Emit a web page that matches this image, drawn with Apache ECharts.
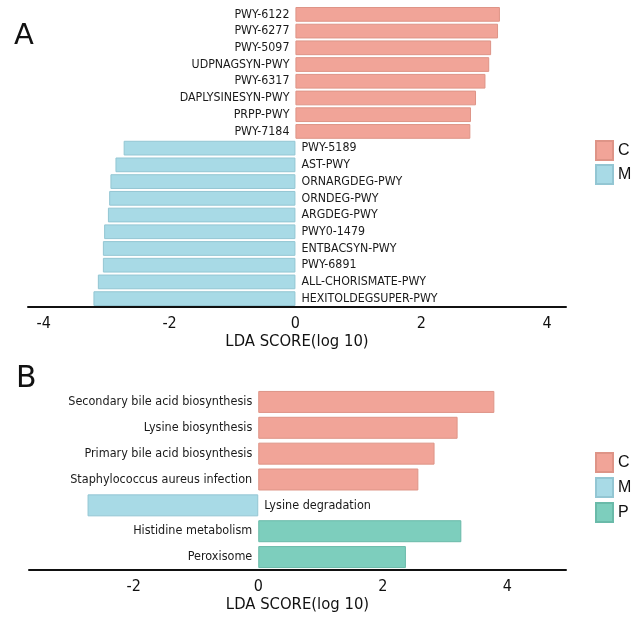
<!DOCTYPE html>
<html>
<head>
<meta charset="utf-8">
<script src="https://cdn.jsdelivr.net/npm/echarts@6/dist/echarts.min.js"></script>
<style>
  html, body { margin: 0; padding: 0; background: #fff; }
  #main { width: 640px; height: 618px; }
</style>
</head>
<body>
<div id="main"></div>
<script>
// panel A - pathways
var topCats = ['PWY-6122', 'PWY-6277', 'PWY-5097', 'UDPNAGSYN-PWY', 'PWY-6317', 'DAPLYSINESYN-PWY', 'PRPP-PWY', 'PWY-7184',
  'PWY-5189', 'AST-PWY', 'ORNARGDEG-PWY', 'ORNDEG-PWY', 'ARGDEG-PWY', 'PWY0-1479', 'ENTBACSYN-PWY', 'PWY-6891',
  'ALL-CHORISMATE-PWY', 'HEXITOLDEGSUPER-PWY'];
var topC = [3.25, 3.22, 3.11, 3.08, 3.02, 2.87, 2.79, 2.78, null, null, null, null, null, null, null, null, null, null];
var topM = [null, null, null, null, null, null, null, null, -2.73, -2.86, -2.94, -2.96, -2.98, -3.04, -3.06, -3.06, -3.14, -3.21];

// panel B - KEGG
var botCats = ['Secondary bile acid biosynthesis', 'Lysine biosynthesis', 'Primary bile acid biosynthesis',
  'Staphylococcus aureus infection', 'Lysine degradation', 'Histidine metabolism', 'Peroxisome'];
var botC = [3.79, 3.20, 2.83, 2.57, null, null, null];
var botM = [null, null, null, null, -2.74, null, null];
var botP = [null, null, null, null, null, 3.26, 2.37];

var tickVals = [-4, -2, 0, 2, 4];

var cols = { C: '#F1A498', M: '#A8DAE6', P: '#7DCEBD' };
var edge = { C: '#DE9487', M: '#93C6D3', P: '#6ABAA9' };
var FONT = '"DejaVu Sans Condensed", "Liberation Sans Narrow", "DejaVu Sans", sans-serif';

function xAx(idx, mn, mx, margin, gap) {
  return {
    gridIndex: idx, type: 'value', min: mn, max: mx,
    splitLine: { show: false }, axisTick: { show: false },
    axisLine: { show: true, onZero: false, lineStyle: { color: '#111', width: 2 } },
    axisLabel: { customValues: tickVals, margin: margin, color: '#111', fontSize: 16, fontFamily: FONT },
    name: 'LDA SCORE(log 10)', nameLocation: 'middle', nameGap: gap,
    nameTextStyle: { color: '#111', fontSize: 16.5, fontFamily: FONT }
  };
}
function yAx(idx, cats) {
  return {
    gridIndex: idx, type: 'category', data: cats, inverse: true,
    axisLine: { show: false }, axisTick: { show: false }, axisLabel: { show: false }, splitLine: { show: false }
  };
}
function bar(name, idx, data, pos, fs, gap) {
  return {
    name: name, type: 'bar', xAxisIndex: idx, yAxisIndex: idx, stack: 'p' + idx,
    data: data, barCategoryGap: gap,
    itemStyle: { color: cols[name], borderColor: edge[name], borderWidth: 1 },
    label: {
      show: true, position: pos, distance: 6, formatter: '{b}',
      color: '#1a1a1a', fontSize: fs, fontFamily: FONT
    }
  };
}

var chart = echarts.init(document.getElementById('main'));
chart.setOption({
  animation: false,
  title: [
    { text: 'A', left: 9, top: 17, textStyle: { fontSize: 29, fontWeight: 'normal', color: '#111', fontFamily: '"DejaVu Sans", sans-serif' } },
    { text: 'B', left: 11, top: 359, textStyle: { fontSize: 30, fontWeight: 'normal', color: '#111', fontFamily: '"DejaVu Sans", sans-serif' } }
  ],
  legend: [
    { data: ['C', 'M'], orient: 'vertical', left: 595, top: 140, padding: 0, itemWidth: 17, itemHeight: 19, itemGap: 3,
      icon: 'rect', textStyle: { fontSize: 16, color: '#111', fontFamily: '"Liberation Sans", Arial, sans-serif' } },
    { data: ['C', 'M', 'P'], orient: 'vertical', left: 595, top: 452, padding: 0, itemWidth: 17, itemHeight: 19, itemGap: 4,
      icon: 'rect', textStyle: { fontSize: 16, color: '#111', fontFamily: '"Liberation Sans", Arial, sans-serif' } }
  ],
  grid: [
    { left: 28, right: 74, top: 6, bottom: 311 },
    { left: 29, right: 74, top: 389, bottom: 48 }
  ],
  xAxis: [xAx(0, -4.25, 4.3, 9, 25), xAx(1, -3.68, 4.94, 9, 26)],
  yAxis: [yAx(0, topCats), yAx(1, botCats)],
  series: [
    bar('C', 0, topC, 'left', 12.3, '12%'),
    bar('M', 0, topM, 'right', 12.3, '12%'),
    bar('C', 1, botC, 'left', 12.5, '15%'),
    bar('M', 1, botM, 'right', 12.5, '15%'),
    bar('P', 1, botP, 'left', 12.5, '15%')
  ]
});
</script>
</body>
</html>
